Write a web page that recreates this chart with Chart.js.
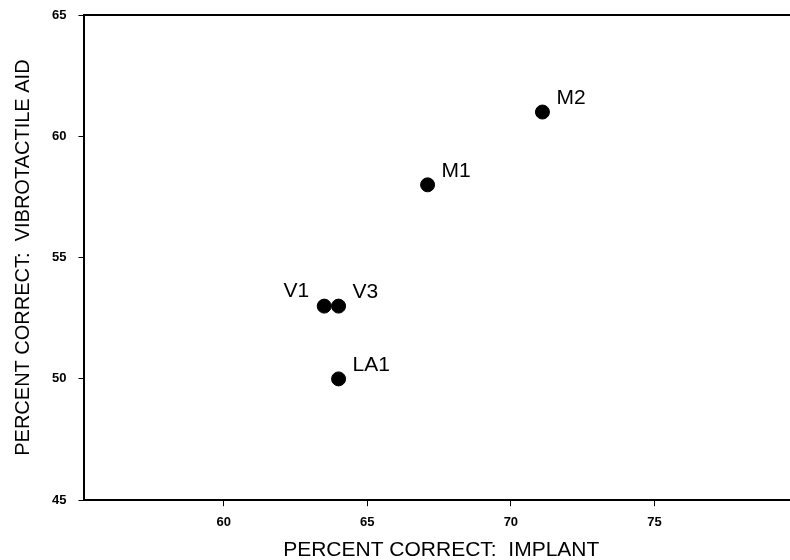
<!DOCTYPE html>
<html>
<head>
    <title>Percent correct: implant vs vibrotactile aid</title>
    <script src="https://cdn.jsdelivr.net/npm/chart.js"></script>
    <style>
        body { margin: 0; background: #fff; overflow: hidden; }
        .chart-container { width: 806px; height: 560px; }
    </style>
</head>
<body>
    <div class="chart-container">
        <canvas id="scatterChart" width="806" height="560"></canvas>
    </div>

    <script>
        // subjects and their scores
        const subjects = ["M2", "M1", "V1", "V3", "LA1"];
        const implantScores = [71.1, 67.1, 63.5, 64, 64];
        const vibroScores = [61, 58, 53, 53, 50];
        // where each label sits relative to its dot
        const labelSide = ["right", "right", "left", "right", "right"];

        const xTicks = [60, 65, 70, 75];
        const yTicks = [45, 50, 55, 60, 65];

        const points = subjects.map((s, i) => ({ x: implantScores[i], y: vibroScores[i] }));

        // draws the subject names next to the dots + the top frame line
        const labelPlugin = {
            id: "pointLabels",
            afterDatasetsDraw(chart) {
                const ctx = chart.ctx;
                const meta = chart.getDatasetMeta(0);
                ctx.save();
                ctx.fillStyle = "#000";
                ctx.font = "21px 'Liberation Sans', Arial, sans-serif";
                ctx.textBaseline = "alphabetic";
                meta.data.forEach((pt, i) => {
                    if (labelSide[i] === "left") {
                        ctx.textAlign = "right";
                        ctx.fillText(subjects[i], pt.x - 15, pt.y - 9);
                    } else {
                        ctx.textAlign = "left";
                        ctx.fillText(subjects[i], pt.x + 14, pt.y - 8);
                    }
                });
                // top border of the plot
                const area = chart.chartArea;
                ctx.strokeStyle = "#000";
                ctx.lineWidth = 2;
                ctx.beginPath();
                ctx.moveTo(area.left, area.top);
                ctx.lineTo(area.right + 2, area.top);
                ctx.stroke();
                ctx.restore();
            }
        };

        const ctx = document.getElementById("scatterChart").getContext("2d");
        new Chart(ctx, {
            type: "scatter",
            data: {
                datasets: [{
                    data: points,
                    backgroundColor: "#000",
                    borderColor: "#000",
                    pointRadius: 7,
                    pointHoverRadius: 7
                }]
            },
            options: {
                responsive: false,
                animation: false,
                layout: { padding: { top: 15, right: 0, left: 11, bottom: 0 } },
                plugins: {
                    legend: { display: false },
                    tooltip: { enabled: false }
                },
                scales: {
                    x: {
                        type: "linear",
                        min: 55.15,
                        max: 80,
                        afterBuildTicks: axis => { axis.ticks = xTicks.map(v => ({ value: v })); },
                        ticks: {
                            color: "#000",
                            font: { size: 13, weight: "bold", family: "'Liberation Sans', Arial, sans-serif" },
                            padding: 8
                        },
                        grid: { drawOnChartArea: false, drawTicks: true, tickLength: 6, color: "#000" },
                        border: { display: true, color: "#000", width: 2 },
                        title: {
                            display: true,
                            text: "PERCENT CORRECT:  IMPLANT",
                            color: "#000",
                            font: { size: 21, family: "'Liberation Sans', Arial, sans-serif" },
                            padding: { top: 0, bottom: -3 }
                        }
                    },
                    y: {
                        type: "linear",
                        min: 45,
                        max: 65,
                        afterBuildTicks: axis => { axis.ticks = yTicks.map(v => ({ value: v })); },
                        // don't let the 65 label push the plot down
                        afterFit: axis => { axis.paddingTop = 0; axis.paddingBottom = 0; },
                        ticks: {
                            color: "#000",
                            font: { size: 13, weight: "bold", family: "'Liberation Sans', Arial, sans-serif" },
                            padding: 12
                        },
                        grid: { drawOnChartArea: false, drawTicks: true, tickLength: 6, color: "#000" },
                        border: { display: true, color: "#000", width: 2 },
                        title: {
                            display: true,
                            text: "PERCENT CORRECT:  VIBROTACTILE AID",
                            color: "#000",
                            font: { size: 20, family: "'Liberation Sans', Arial, sans-serif" },
                            padding: { top: 0, bottom: 5 }
                        }
                    }
                }
            },
            plugins: [labelPlugin]
        });
    </script>
</body>
</html>
